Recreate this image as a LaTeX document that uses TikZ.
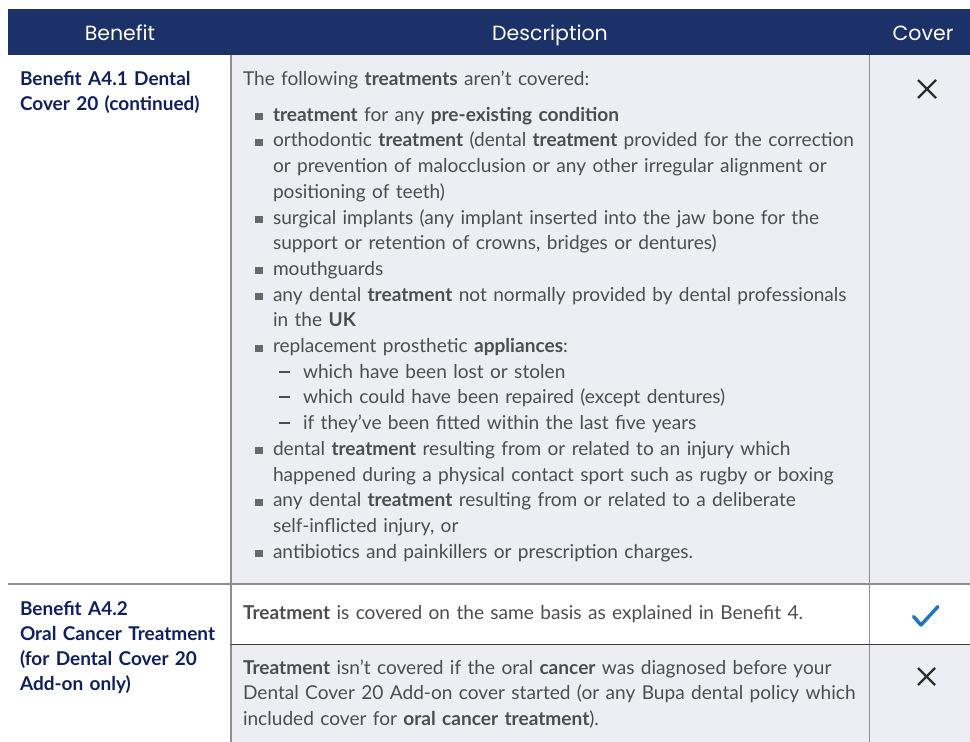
\documentclass[tikz,border=0pt]{standalone}
\usepackage{fontspec}
\setmainfont{Lato}
\newfontfamily\headfamily{Poppins}
\usetikzlibrary{
    positioning,
    calc,
}

\definecolor{bupanavy}{HTML}{1D3169}
\definecolor{benefitnavy}{HTML}{0F205C}
\definecolor{cellgray}{HTML}{ECEEF3}
\definecolor{bodytext}{HTML}{4D4D4D}
\definecolor{rulegray}{HTML}{8E8E8E}
\definecolor{darkrule}{HTML}{3C3C3C}
\definecolor{crossgray}{HTML}{2E2E2E}
\definecolor{tickblue}{HTML}{1F74BE}

% list items, wrapped lines indented with \leftskip
\newcommand{\sqitem}[1]{\par{\leftskip=30pt\noindent
    \llap{\makebox[18pt][l]{\textcolor{bodytext!85}{\rule[1pt]{7.5pt}{7pt}}}}#1\par}}
\newcommand{\dashitem}[1]{\par{\leftskip=60pt\noindent
    \llap{\makebox[24pt][l]{\textcolor{bodytext}{\rule[5.5pt]{11pt}{2pt}}}}#1\par}}

\begin{document}
\begin{tikzpicture}[
    x=1pt, y=-1pt,
    every node/.style={inner sep=0pt, outer sep=0pt},
    headtext/.style={text=white, font=\headfamily\fontsize{20.5}{24}\selectfont, anchor=base},
    benefittext/.style={text=benefitnavy, font=\fontsize{19}{25}\selectfont\bfseries, text width=215pt, align=left, anchor=base west},
    desctext/.style={text=bodytext, font=\fontsize{19.1}{25.7}\selectfont, text width=625pt, align=left, anchor=base west},
    gridline/.style={draw=rulegray, line width=1.5pt},
    crossmark/.style={draw=crossgray, line width=2.4pt},
    ]

\useasboundingbox (0,0) rectangle (970,742);

% cell backgrounds
\fill[bupanavy] (8,9) rectangle (970,55);
\fill[cellgray] (231,55) rectangle (970,584);
\fill[cellgray] (231,644) rectangle (970,742);

% header
\node[headtext] (hdbenefit) at (120,40) {Benefit};
\node[headtext] (hddesc) at (550,40) {Description};
\node[headtext] (hdcover) at (923,40) {Cover};

% first benefit
\node[benefittext] (benefitone) at (20,85)
    {Benefit A4.1 Dental\\Cover 20 (continued)};

\node[desctext] (descone) at (243,85) {%
    The following \textbf{treatments} aren’t covered:\par\vspace{10.5pt}
    \sqitem{\textbf{treatment} for any \textbf{pre-existing condition}}
    \sqitem{orthodontic \textbf{treatment} (dental \textbf{treatment} provided for the correction\\
        or prevention of malocclusion or any other irregular alignment or\\
        positioning of teeth)}
    \sqitem{surgical implants (any implant inserted into the jaw bone for the\\
        support or retention of crowns, bridges or dentures)}
    \sqitem{mouthguards}
    \sqitem{any dental \textbf{treatment} not normally provided by dental professionals\\
        in the \textbf{UK}}
    \sqitem{replacement prosthetic \textbf{appliances}:}
    \dashitem{which have been lost or stolen}
    \dashitem{which could have been repaired (except dentures)}
    \dashitem{if they’ve been fitted within the last five years}
    \sqitem{dental \textbf{treatment} resulting from or related to an injury which\\
        happened during a physical contact sport such as rugby or boxing}
    \sqitem{any dental \textbf{treatment} resulting from or related to a deliberate\\
        self-inflicted injury, or}
    \sqitem{antibiotics and painkillers or prescription charges.}
    };

% second benefit
\node[benefittext] (benefittwo) at (20,615)
    {Benefit A4.2\\Oral Cancer Treatment\\(for Dental Cover 20\\Add-on only)};

\node[desctext] (desctwo) at (243,619)
    {\textbf{Treatment} is covered on the same basis as explained in Benefit 4.};

\node[desctext] (descthree) at (243,674)
    {\textbf{Treatment} isn’t covered if the oral \textbf{cancer} was diagnosed before your\\
    Dental Cover 20 Add-on cover started (or any Bupa dental policy which\\
    included cover for \textbf{oral cancer treatment}).};

% grid
\draw[gridline] (231,55) -- (231,742);
\draw[gridline] (869.5,55) -- (869.5,742);
\draw[gridline] (8,584) -- (970,584);
\draw[draw=darkrule, line width=1pt] (231,644) -- (970,644);

% cover marks
\draw[crossmark] (918,80) -- (936,98) (936,80) -- (918,98);
\draw[crossmark] (918,668) -- (935,685) (935,668) -- (918,685);
\draw[draw=tickblue, line width=3.4pt, line cap=round, line join=round]
    (913.5,616.5) -- (921,625) -- (938,606.5);

\end{tikzpicture}
\end{document}
